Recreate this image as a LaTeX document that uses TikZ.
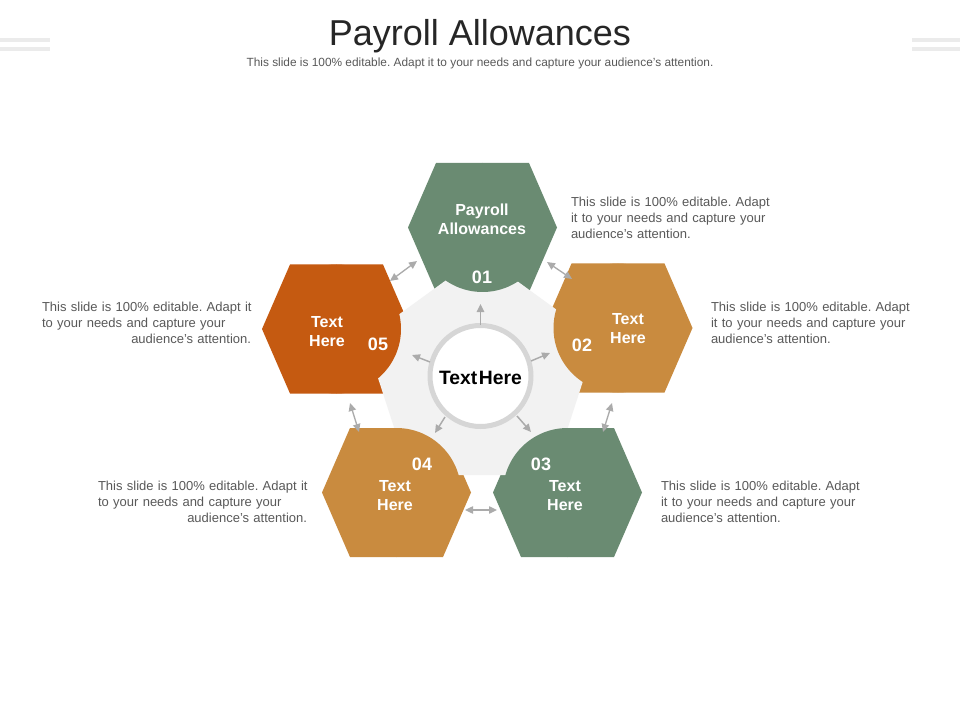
\documentclass[tikz,border=0pt]{standalone}
\usepackage{fontspec}
\setmainfont{Liberation Sans}
\usetikzlibrary{arrows.meta}
\definecolor{hgreen}{HTML}{6A8B72}
\definecolor{htan}{HTML}{C98B3F}
\definecolor{horange}{HTML}{C55A11}
\definecolor{pgrey}{HTML}{F2F2F2}
\definecolor{ringgrey}{HTML}{D6D6D6}
\definecolor{arrowgrey}{HTML}{ABABAB}
\definecolor{bodygrey}{HTML}{595959}
\definecolor{titlegrey}{HTML}{262626}
\definecolor{bargrey}{HTML}{EBEBEB}
\newcommand\hexfrom[1]{(#1) ++(-74.5,0) -- ++(28,-64.5) -- ++(93,0) -- ++(28,64.5) -- ++(-28,64.5) -- ++(-93,0) -- cycle}
\frenchspacing
\begin{document}
\begin{tikzpicture}[x=0.75pt,y=-0.75pt,
  body/.style={font={\fontsize{9.75}{12}\selectfont}, text=bodygrey, inner sep=0pt},
  hlabel/.style={font={\fontsize{12}{14.25}\selectfont\bfseries}, text=white, align=center, inner sep=0pt},
  hnum/.style={font={\fontsize{13.5}{16}\selectfont\bfseries}, text=white, inner sep=0pt},
  radarrow/.style={draw=arrowgrey, line width=1.1pt, -{Triangle[length=6pt,width=5.5pt]}},
  dblarrow/.style={draw=arrowgrey, line width=1pt, {Triangle[length=6pt,width=5.5pt]}-{Triangle[length=6pt,width=5.5pt]}},
  bar/.style={draw=bargrey, line width=3pt}]
\useasboundingbox (0,0) rectangle (960,720);
\fill[white] (0,0) rectangle (960,720);

% decorative bars
\coordinate (bl1a) at (0,40); \coordinate (bl1b) at (50,40);
\coordinate (bl2a) at (0,49); \coordinate (bl2b) at (50,49);
\coordinate (br1a) at (912,40); \coordinate (br1b) at (960,40);
\coordinate (br2a) at (912,49); \coordinate (br2b) at (960,49);
\draw[bar] (bl1a) -- (bl1b); \draw[bar] (bl2a) -- (bl2b);
\draw[bar] (br1a) -- (br1b); \draw[bar] (br2a) -- (br2b);

% title
\node[font={\fontsize{27}{30}\selectfont}, text=titlegrey, inner sep=0pt] (title) at (480,36) {Payroll Allowances};
\node[font={\fontsize{8.9}{10}\selectfont}, text=bodygrey, inner sep=0pt] (subtitle) at (480,63) {This slide is 100\% editable. Adapt it to your needs and capture your audience\char39 s attention.};

% hexagon centres
\coordinate (h1) at (482.5,227.5);
\coordinate (h2) at (618,328);
\coordinate (h3) at (567.5,492.5);
\coordinate (h4) at (396.5,492.5);
\coordinate (h5) at (336.5,329);
\coordinate (cen) at (481,376.5);

\fill[hgreen] \hexfrom{h1};
\fill[htan] \hexfrom{h2};
\fill[hgreen] \hexfrom{h3};
\fill[htan] \hexfrom{h4};
\fill[horange] \hexfrom{h5};

% grey pentagon
\fill[pgrey] (cen) ++(0,-121.7) coordinate (p1) -- (596.7,338.9) coordinate (p2) -- (552.5,475) coordinate (p3) -- (409.5,475) coordinate (p4) -- (365.3,338.9) coordinate (p5) -- cycle;

% bubbles
\fill[hgreen] (h1) circle (64.5);
\fill[htan] (h2) circle (64.5);
\fill[hgreen] (h3) circle (64.5);
\fill[htan] (h4) circle (64.5);
\fill[horange] (h5) circle (64.5);

% centre circle
\fill[white] (480.5,376) circle (50.5);
\draw[ringgrey, line width=3.75pt] (480.5,376) circle (50.5);
\node[font={\fontsize{14.5}{17}\selectfont\bfseries}, text=black, inner sep=0pt] (ctext) at (480.5,378) {Text\hspace{0.08em}Here};

% radial arrows
\coordinate (r1s) at (480.5,325); \coordinate (r1e) at (480.5,304);
\coordinate (r2s) at (531,361);   \coordinate (r2e) at (550,353);
\coordinate (r3s) at (517,416);   \coordinate (r3e) at (531,432);
\coordinate (r4s) at (445,417);   \coordinate (r4e) at (435,433);
\coordinate (r5s) at (430,362);   \coordinate (r5e) at (412,355);
\draw[radarrow] (r1s) -- (r1e);
\draw[radarrow] (r2s) -- (r2e);
\draw[radarrow] (r3s) -- (r3e);
\draw[radarrow] (r4s) -- (r4e);
\draw[radarrow] (r5s) -- (r5e);

% double arrows between hexagons
\coordinate (d15a) at (390,281); \coordinate (d15b) at (417,261);
\coordinate (d12a) at (547,262); \coordinate (d12b) at (572,279);
\coordinate (d23a) at (612,403); \coordinate (d23b) at (603,432);
\coordinate (d34a) at (465,510); \coordinate (d34b) at (497,510);
\coordinate (d45a) at (350,403); \coordinate (d45b) at (359,432);
\draw[dblarrow] (d15a) -- (d15b);
\draw[dblarrow] (d12a) -- (d12b);
\draw[dblarrow] (d23a) -- (d23b);
\draw[dblarrow] (d34a) -- (d34b);
\draw[dblarrow] (d45a) -- (d45b);

% hexagon labels
\node[hlabel] (l1) at (482,219.5) {Payroll\\Allowances};
\node[hnum] (n1) at (482,277) {01};
\node[hlabel] (l2) at (628,328.5) {Text\\Here};
\node[hnum] (n2) at (582,345) {02};
\node[hlabel] (l3) at (565,495.5) {Text\\Here};
\node[hnum] (n3) at (541,464) {03};
\node[hlabel] (l4) at (395,495.5) {Text\\Here};
\node[hnum] (n4) at (422,464) {04};
\node[hlabel] (l5) at (327,331.5) {Text\\Here};
\node[hnum] (n5) at (378,344) {05};

% body texts
\node[body, text width=148.5pt, align=left] (t1) at (670,218)
  {\makebox[148.5pt][s]{This slide is 100\% editable. Adapt}\\\makebox[148.5pt][s]{it to your needs and capture your}\\audience\char39 s attention.};
\node[body, text width=148.5pt, align=left] (t2) at (810,323)
  {\makebox[148.5pt][s]{This slide is 100\% editable. Adapt}\\\makebox[148.5pt][s]{it to your needs and capture your}\\audience\char39 s attention.};
\node[body, text width=148.5pt, align=left] (t3) at (760,502)
  {\makebox[148.5pt][s]{This slide is 100\% editable. Adapt}\\\makebox[148.5pt][s]{it to your needs and capture your}\\audience\char39 s attention.};
\node[body, text width=156.75pt, align=right] (t5) at (146.5,323)
  {\makebox[156.75pt][s]{This slide is 100\% editable. Adapt it}\\\makebox[156.75pt][s]{to your needs and capture your}\\audience\char39 s attention.};
\node[body, text width=156.75pt, align=right] (t4) at (202.5,502)
  {\makebox[156.75pt][s]{This slide is 100\% editable. Adapt it}\\\makebox[156.75pt][s]{to your needs and capture your}\\audience\char39 s attention.};
\end{tikzpicture}
\end{document}
